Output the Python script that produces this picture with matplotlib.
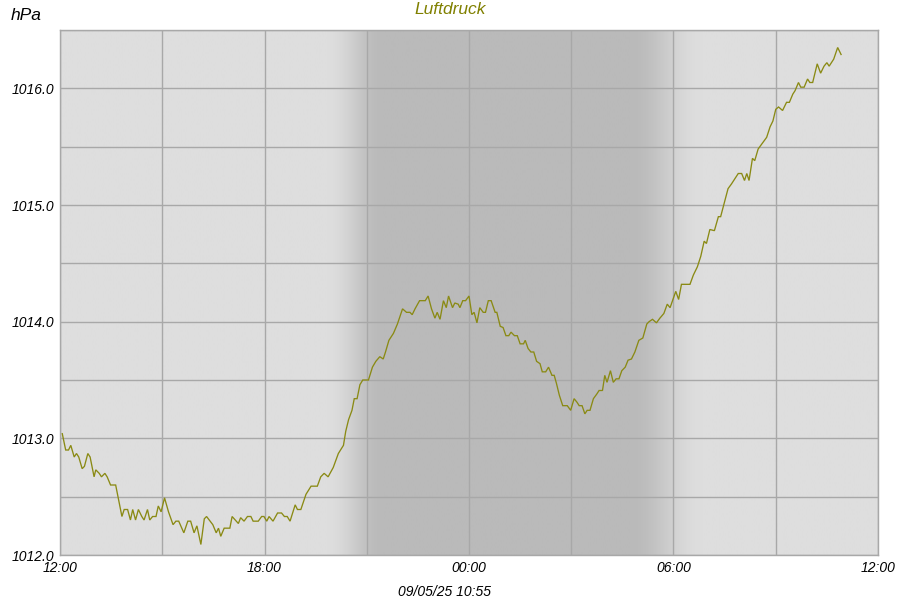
import numpy as np
import matplotlib
matplotlib.use("Agg")
import matplotlib.pyplot as plt
from matplotlib.ticker import FixedLocator, NullFormatter

# minutes after 12:00 (start of chart) and pressure values in hPa
minutes = [4, 10, 15, 19, 25, 29, 33, 39, 43, 49, 53, 60, 63, 69, 73, 79, 83, 89, 98, 109,
           113, 119, 124, 128, 133, 138, 144, 148, 154, 158, 163, 169, 173, 178, 184, 191, 199, 204, 209, 218,
           225, 230, 236, 241, 248, 254, 258, 269, 275, 279, 283, 289, 299, 303, 314, 318, 324, 330, 336, 340,
           349, 355, 359, 364, 368, 375, 383, 390, 395, 400, 405, 414, 418, 424, 433, 442, 453, 459, 465, 472,
           481, 490, 499, 503, 508, 514, 518, 523, 528, 533, 543, 550, 556, 563, 569, 573, 579, 587, 594, 603,
           610, 616, 620, 625, 633, 643, 648, 654, 660, 664, 669, 675, 680, 684, 691, 695, 701, 704, 709, 714,
           720, 725, 729, 734, 739, 745, 749, 754, 759, 766, 769, 775, 780, 785, 790, 794, 800, 805, 810, 816,
           819, 824, 829, 834, 839, 845, 849, 855, 860, 866, 870, 874, 879, 885, 893, 899, 905, 910, 914, 919,
           924, 928, 933, 939, 945, 949, 955, 959, 963, 969, 974, 979, 984, 989, 995, 1000, 1006, 1012, 1019, 1026,
           1033, 1037, 1043, 1050, 1056, 1063, 1069, 1074, 1084, 1089, 1094, 1109, 1115, 1122, 1128, 1134, 1138, 1144, 1152, 1159,
           1163, 1169, 1176, 1182, 1194, 1200, 1205, 1209, 1213, 1219, 1223, 1229, 1244, 1250, 1255, 1260, 1265, 1272, 1279, 1284,
           1290, 1294, 1300, 1304, 1310, 1316, 1320, 1325, 1333, 1339, 1345, 1350, 1354, 1362, 1369, 1375]
pressure = [1013.04, 1012.90, 1012.90, 1012.94, 1012.84, 1012.87, 1012.84, 1012.74, 1012.76, 1012.87,
            1012.84, 1012.67, 1012.73, 1012.70, 1012.67, 1012.70, 1012.67, 1012.60, 1012.60, 1012.33,
            1012.39, 1012.39, 1012.30, 1012.39, 1012.30, 1012.39, 1012.33, 1012.30, 1012.39, 1012.30,
            1012.33, 1012.33, 1012.42, 1012.37, 1012.49, 1012.37, 1012.26, 1012.29, 1012.29, 1012.19,
            1012.29, 1012.29, 1012.19, 1012.25, 1012.09, 1012.31, 1012.33, 1012.26, 1012.19, 1012.23,
            1012.16, 1012.23, 1012.23, 1012.33, 1012.27, 1012.32, 1012.29, 1012.33, 1012.33, 1012.29,
            1012.29, 1012.33, 1012.33, 1012.29, 1012.33, 1012.29, 1012.36, 1012.36, 1012.33, 1012.33,
            1012.29, 1012.43, 1012.39, 1012.39, 1012.52, 1012.59, 1012.59, 1012.67, 1012.70, 1012.67,
            1012.75, 1012.87, 1012.94, 1013.06, 1013.16, 1013.24, 1013.34, 1013.34, 1013.46, 1013.50,
            1013.50, 1013.61, 1013.66, 1013.70, 1013.68, 1013.74, 1013.84, 1013.90, 1013.98, 1014.11,
            1014.08, 1014.08, 1014.06, 1014.11, 1014.18, 1014.18, 1014.22, 1014.11, 1014.03, 1014.08,
            1014.02, 1014.18, 1014.12, 1014.22, 1014.12, 1014.16, 1014.15, 1014.12, 1014.18, 1014.18,
            1014.22, 1014.06, 1014.08, 1013.99, 1014.12, 1014.08, 1014.08, 1014.18, 1014.18, 1014.08,
            1014.08, 1013.96, 1013.95, 1013.88, 1013.88, 1013.91, 1013.88, 1013.88, 1013.81, 1013.81,
            1013.84, 1013.77, 1013.74, 1013.74, 1013.66, 1013.64, 1013.57, 1013.57, 1013.61, 1013.54,
            1013.54, 1013.47, 1013.37, 1013.28, 1013.28, 1013.24, 1013.34, 1013.31, 1013.28, 1013.28,
            1013.21, 1013.24, 1013.24, 1013.34, 1013.38, 1013.41, 1013.41, 1013.54, 1013.48, 1013.58,
            1013.48, 1013.51, 1013.51, 1013.58, 1013.61, 1013.67, 1013.68, 1013.74, 1013.84, 1013.86,
            1013.98, 1014.00, 1014.02, 1013.99, 1014.03, 1014.07, 1014.15, 1014.12, 1014.26, 1014.19,
            1014.32, 1014.32, 1014.40, 1014.47, 1014.56, 1014.69, 1014.67, 1014.79, 1014.78, 1014.90,
            1014.90, 1015.01, 1015.14, 1015.18, 1015.27, 1015.27, 1015.21, 1015.27, 1015.21, 1015.40,
            1015.38, 1015.48, 1015.58, 1015.67, 1015.72, 1015.82, 1015.84, 1015.81, 1015.88, 1015.88,
            1015.95, 1015.98, 1016.05, 1016.01, 1016.01, 1016.08, 1016.05, 1016.05, 1016.21, 1016.13,
            1016.19, 1016.22, 1016.19, 1016.25, 1016.35, 1016.29]

x_tick_labels = ["12:00", "18:00", "00:00", "06:00", "12:00"]
y_tick_labels = ["1012.0", "1013.0", "1014.0", "1015.0", "1016.0"]
title = "Luftdruck"
unit = "hPa"
footer = "09/05/25 10:55"

plt.rcParams['font.family'] = ['Liberation Sans', 'DejaVu Sans']

fig = plt.figure(figsize=(9, 6), dpi=100)
ax = fig.add_axes([60 / 900, 45 / 600, 818 / 900, 525 / 600])

ymin, ymax = 1012.0, 1016.5
# night shading with twilight gradients
xs = np.linspace(0, 24, 1200)
day_c, night_c = 222 / 255, 186 / 255
def ramp(x, a, b):
    t = np.clip((x - a) / (b - a), 0, 1)
    return t * t * (3 - 2 * t)
dark = ramp(xs, 7.85, 9.45) - ramp(xs, 16.75, 18.85)
col = day_c + (night_c - day_c) * dark
img = np.repeat(col[None, :, None], 3, axis=2)
ax.imshow(img, extent=[0, 24, ymin, ymax], aspect='auto', origin='lower',
          interpolation='bilinear', zorder=0)

t_hours = np.array(minutes) / 60.0
ax.plot(t_hours, pressure, color='#8a8a14', lw=0.95, zorder=3, solid_joinstyle='miter')

ax.set_xlim(0, 24)
ax.set_ylim(ymin, ymax)

ax.xaxis.set_major_locator(FixedLocator([0, 6, 12, 18, 24]))
ax.xaxis.set_minor_locator(FixedLocator([3, 9, 15, 21]))
ax.set_xticklabels(x_tick_labels)
ax.yaxis.set_major_locator(FixedLocator([1012, 1013, 1014, 1015, 1016]))
ax.yaxis.set_minor_locator(FixedLocator([1012.5, 1013.5, 1014.5, 1015.5, 1016.5]))
ax.set_yticklabels(y_tick_labels)
ax.xaxis.set_minor_formatter(NullFormatter())
ax.yaxis.set_minor_formatter(NullFormatter())

ax.grid(True, which='both', color='#a8a8a8', lw=1.0, zorder=1)
ax.set_axisbelow(False)
for gl in ax.get_xgridlines() + ax.get_ygridlines():
    gl.set_zorder(1)

ax.tick_params(which='both', length=0, labelsize=10)
ax.tick_params(axis='x', pad=4)
ax.tick_params(axis='y', pad=4)
for lab in ax.get_xticklabels() + ax.get_yticklabels():
    lab.set_fontstyle('italic')
for s in ax.spines.values():
    s.set_color('#a8a8a8')
    s.set_linewidth(1.0)

fig.text(450 / 900, 1 - 9 / 600, title, color='#808000', fontsize=12.5,
         fontstyle='italic', ha='center', va='center')
fig.text(11 / 900, 1 - 15 / 600, unit, color='black', fontsize=12.5,
         fontstyle='italic', ha='left', va='center')
fig.text(445 / 900, 1 - 592 / 600, footer, color='black', fontsize=10,
         fontstyle='italic', ha='center', va='center')

fig.savefig("out.png", dpi=100, facecolor='white')
